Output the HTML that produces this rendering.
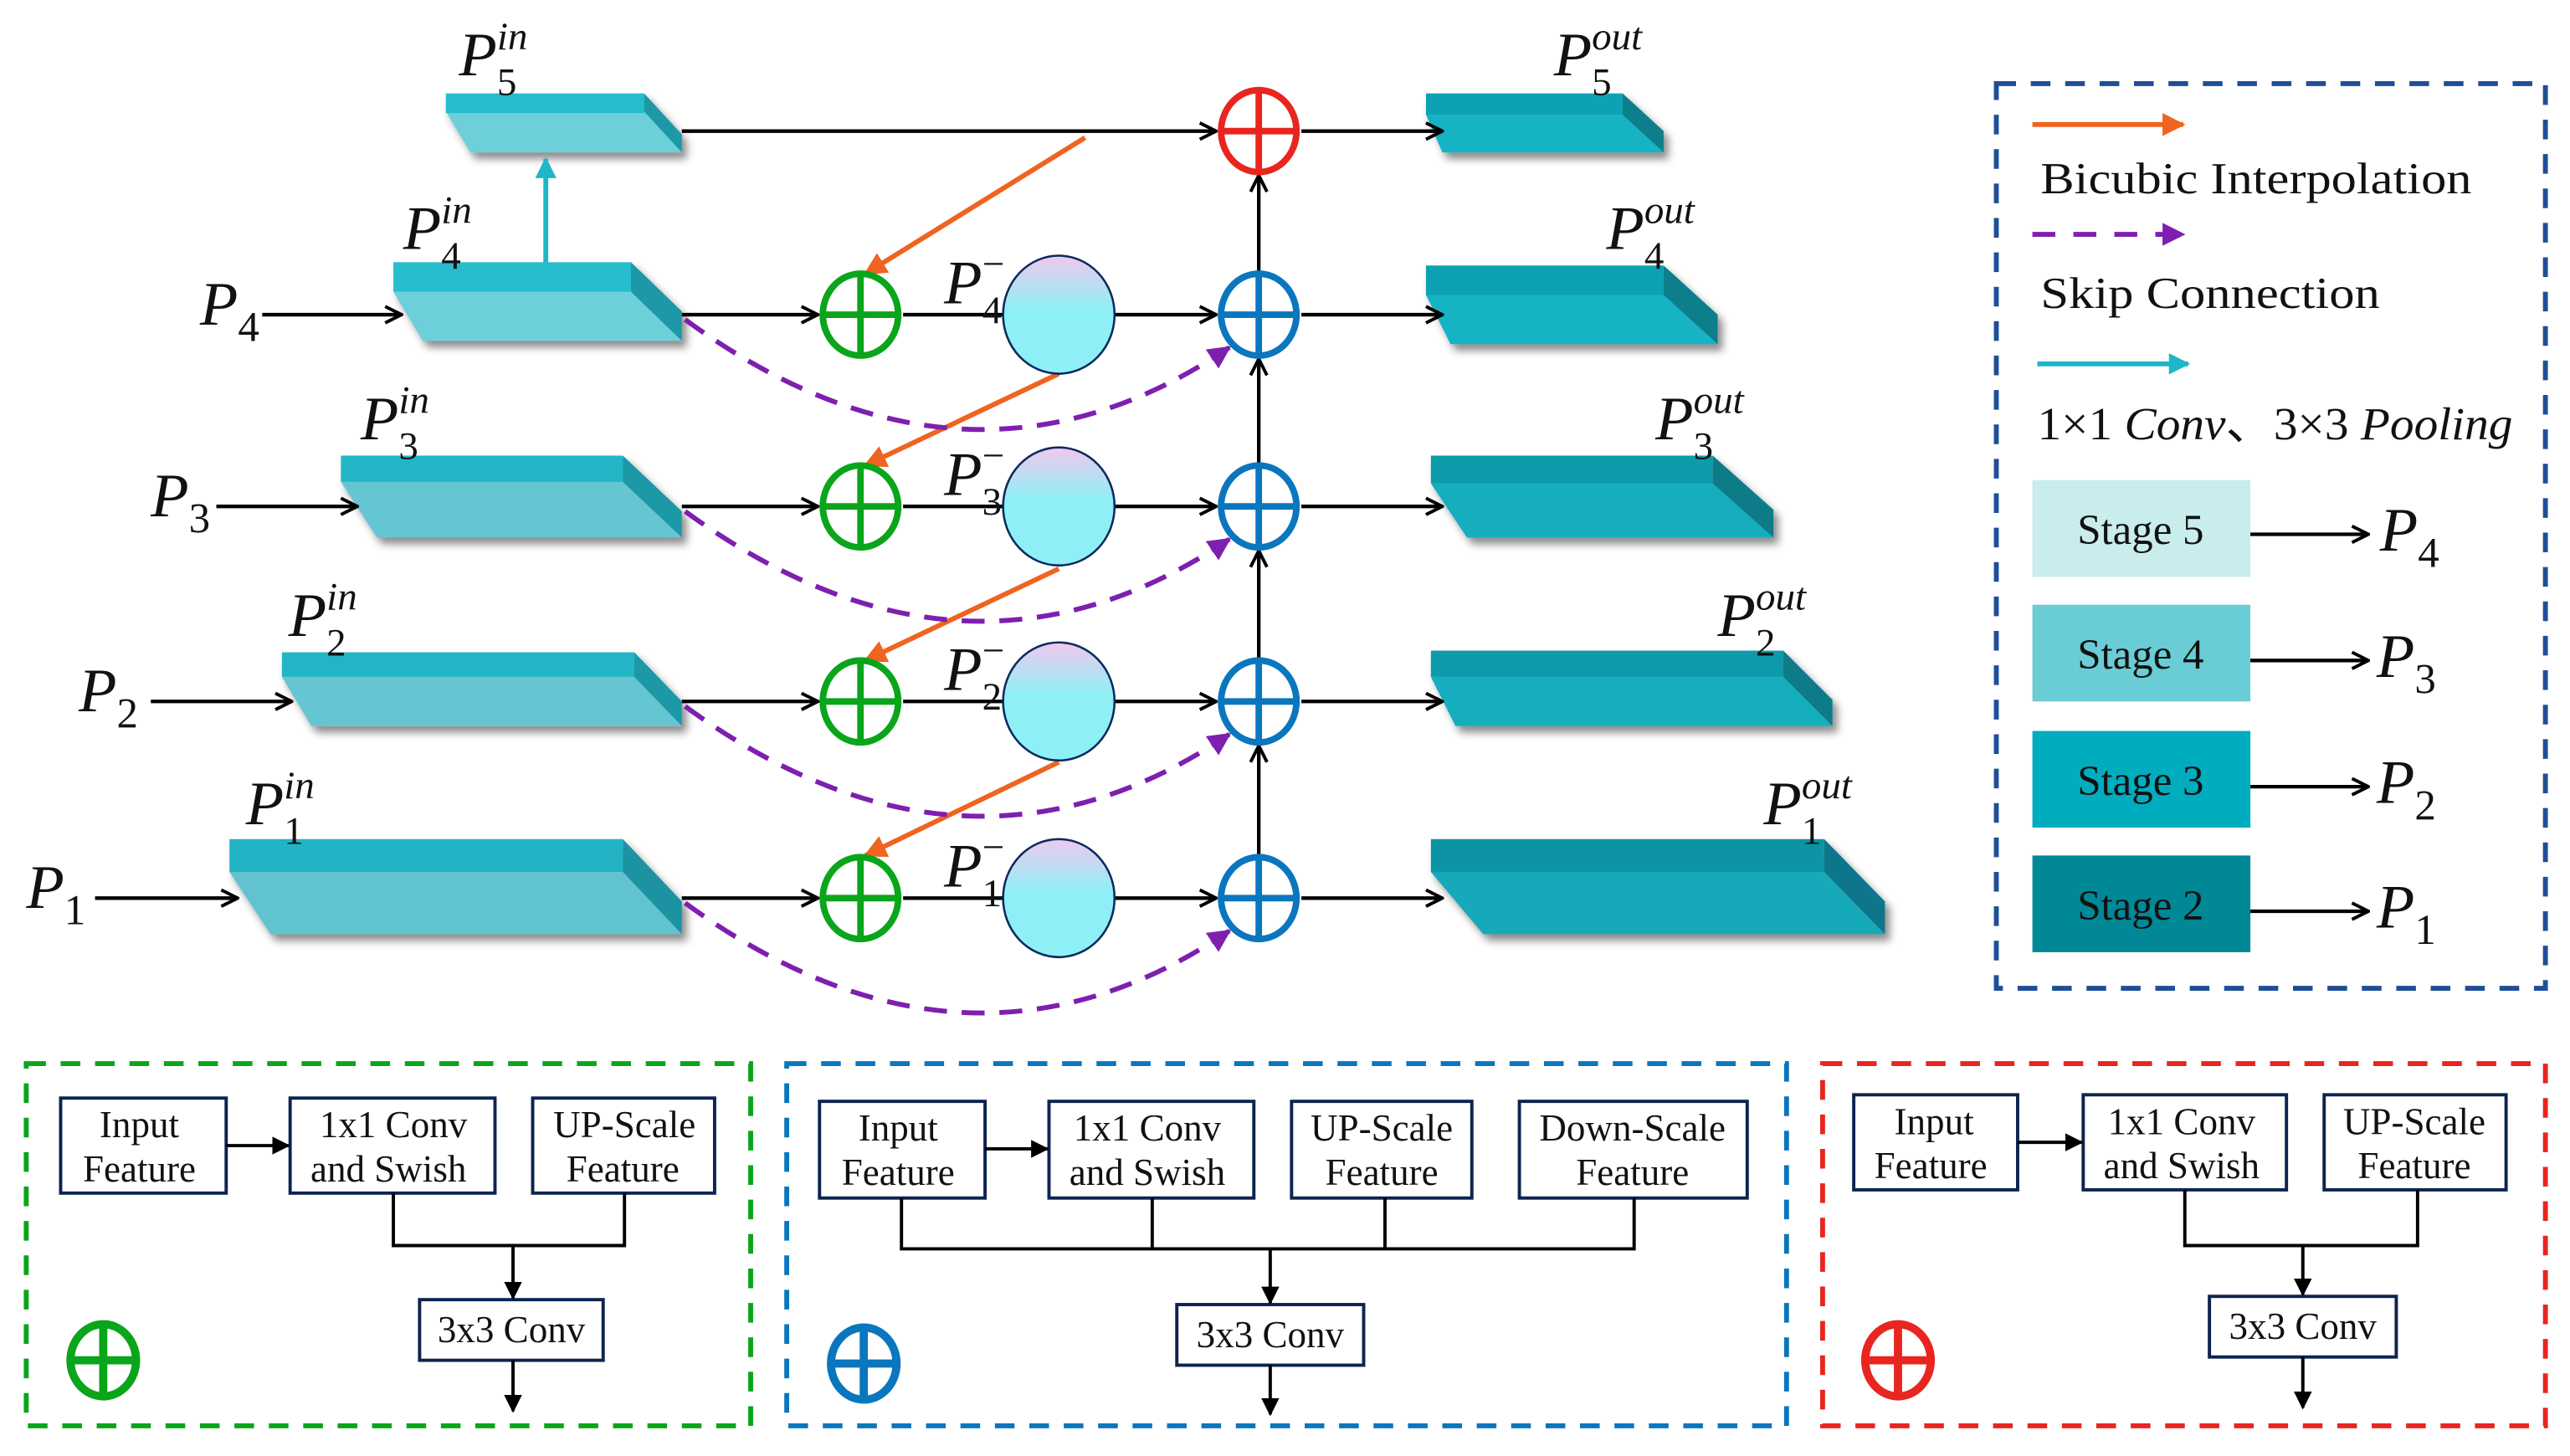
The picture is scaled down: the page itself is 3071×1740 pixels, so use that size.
<!DOCTYPE html>
<html><head><meta charset="utf-8"><style>
html,body{margin:0;padding:0;background:#fff;}
svg{display:block;}
.P{font-family:"Liberation Serif",serif;font-style:italic;fill:#111;}
.s{font-family:"Liberation Serif",serif;fill:#111;}
.b{font-family:"Liberation Serif",serif;fill:#111;font-size:23px;}
</style></head><body>
<svg width="3071" height="1740" viewBox="0 0 1568 888.4" preserveAspectRatio="none" xmlns="http://www.w3.org/2000/svg">
<defs>
<marker id="ah" viewBox="0 0 12 12" refX="11" refY="6" markerWidth="12" markerHeight="12" markerUnits="userSpaceOnUse" orient="auto"><path d="M1,1 L11,6 L1,11" fill="none" stroke="#000" stroke-width="2"/></marker>
<marker id="ao" viewBox="0 0 10 10" refX="9" refY="5" markerWidth="14" markerHeight="14" markerUnits="userSpaceOnUse" orient="auto"><path d="M0,0 L10,5 L0,10 z" fill="#ee6420"/></marker>
<marker id="ap" viewBox="0 0 10 10" refX="9" refY="5" markerWidth="14" markerHeight="14" markerUnits="userSpaceOnUse" orient="auto"><path d="M0,0 L10,5 L0,10 z" fill="#7e1fb0"/></marker>
<marker id="ac" viewBox="0 0 10 10" refX="9" refY="5" markerWidth="13" markerHeight="13" markerUnits="userSpaceOnUse" orient="auto"><path d="M0,0 L10,5 L0,10 z" fill="#1fb6c8"/></marker>
<marker id="ab" viewBox="0 0 10 10" refX="9" refY="5" markerWidth="11" markerHeight="11" markerUnits="userSpaceOnUse" orient="auto"><path d="M0,0 L10,5 L0,10 z" fill="#000"/></marker>
<linearGradient id="g" x1="0" y1="0" x2="0" y2="1"><stop offset="0" stop-color="#f0c8ee"/><stop offset="0.45" stop-color="#8ef0f6"/><stop offset="1" stop-color="#8ef0f6"/></linearGradient>
<filter id="sh" x="-10%" y="-10%" width="130%" height="140%"><feDropShadow dx="3" dy="4" stdDeviation="2.5" flood-color="#000" flood-opacity="0.45"/></filter>
</defs>

<g filter="url(#sh)">
<g><polygon points="272,68 393,68 416,93 287,93" fill="#6ccfda"/><rect x="272" y="57" width="121" height="12" fill="#27bdce"/><polygon points="393,57 416,82 416,93 393,68" fill="#1a98a6"/></g>
<g><polygon points="240,178 385,178 416,208 258,208" fill="#6ccfda"/><rect x="240" y="160" width="145" height="18" fill="#27bdce"/><polygon points="385,160 416,190 416,208 385,178" fill="#1a98a6"/></g>
<g><polygon points="208,294 380,294 416,328 230,328" fill="#66c5d2"/><rect x="208" y="278" width="172" height="16" fill="#22b5c6"/><polygon points="380,278 416,312 416,328 380,294" fill="#1a98a6"/></g>
<g><polygon points="172,413 387,413 416,443 190,443" fill="#66c5d2"/><rect x="172" y="398" width="215" height="15" fill="#22b5c6"/><polygon points="387,398 416,428 416,443 387,413" fill="#1a98a6"/></g>
<g><polygon points="140,532 380,532 416,570 165,570" fill="#62c3d0"/><rect x="140" y="512" width="240" height="20" fill="#20b3c4"/><polygon points="380,512 416,550 416,570 380,532" fill="#1a93a1"/></g>
</g>
<g filter="url(#sh)">
<g><polygon points="870,70 990,70 1015,93 880,93" fill="#16b3c4"/><rect x="870" y="57" width="120" height="13" fill="#0ea2b3"/><polygon points="990,57 1015,80 1015,93 990,70" fill="#0a7f8c"/></g>
<g><polygon points="870,180 1015,180 1048,210 885,210" fill="#16b3c4"/><rect x="870" y="162" width="145" height="18" fill="#0ea2b3"/><polygon points="1015,162 1048,192 1048,210 1015,180" fill="#0a7f8c"/></g>
<g><polygon points="873,295 1045,295 1082,328 895,328" fill="#14adbe"/><rect x="873" y="278" width="172" height="17" fill="#0c9aaa"/><polygon points="1045,278 1082,311 1082,328 1045,295" fill="#0a7b88"/></g>
<g><polygon points="873,413 1088,413 1118,443 888,443" fill="#14adbe"/><rect x="873" y="397" width="215" height="16" fill="#0c9aaa"/><polygon points="1088,397 1118,427 1118,443 1088,413" fill="#0a7b88"/></g>
<g><polygon points="873,532 1113,532 1150,570 905,570" fill="#12a9ba"/><rect x="873" y="512" width="240" height="20" fill="#0a94a4"/><polygon points="1113,512 1150,550 1150,570 1113,532" fill="#08768a"/></g>
</g>

<g stroke="#000" stroke-width="2.2" fill="none" marker-end="url(#ah)">
<line x1="416" y1="80" x2="742" y2="80"/>
<line x1="794" y1="80" x2="880" y2="80"/>
<line x1="160" y1="192" x2="245" y2="192"/>
<line x1="132" y1="309" x2="218" y2="309"/>
<line x1="92" y1="428" x2="178" y2="428"/>
<line x1="58" y1="548" x2="145" y2="548"/>
<line x1="416" y1="192" x2="499" y2="192"/>
<line x1="416" y1="309" x2="499" y2="309"/>
<line x1="416" y1="428" x2="499" y2="428"/>
<line x1="416" y1="548" x2="499" y2="548"/>
<line x1="680" y1="192" x2="742" y2="192"/>
<line x1="680" y1="309" x2="742" y2="309"/>
<line x1="680" y1="428" x2="742" y2="428"/>
<line x1="680" y1="548" x2="742" y2="548"/>
<line x1="794" y1="192" x2="880" y2="192"/>
<line x1="794" y1="309" x2="880" y2="309"/>
<line x1="794" y1="428" x2="880" y2="428"/>
<line x1="794" y1="548" x2="880" y2="548"/>
<line x1="768" y1="166" x2="768" y2="107"/>
<line x1="768" y1="283" x2="768" y2="219"/>
<line x1="768" y1="402" x2="768" y2="336"/>
<line x1="768" y1="522" x2="768" y2="455"/>
</g>
<g stroke="#000" stroke-width="2.2">
<line x1="551" y1="192" x2="612" y2="192"/>
<line x1="551" y1="309" x2="612" y2="309"/>
<line x1="551" y1="428" x2="612" y2="428"/>
<line x1="551" y1="548" x2="612" y2="548"/>
</g>
<line x1="333" y1="160" x2="333" y2="97" stroke="#1fb6c8" stroke-width="3" marker-end="url(#ac)"/>
<g stroke="#ee6420" stroke-width="3" marker-end="url(#ao)">
<line x1="662" y1="84" x2="528" y2="167"/>
<line x1="646" y1="228" x2="528" y2="284"/>
<line x1="646" y1="347" x2="528" y2="403"/>
<line x1="646" y1="465" x2="528" y2="522"/>
</g>
<g stroke="#7e1fb0" stroke-width="3" fill="none" stroke-dasharray="14,9" marker-end="url(#ap)">
<path d="M418,195 Q590,320 750,212"/>
<path d="M418,312 Q590,437 750,329"/>
<path d="M418,431 Q590,556 750,448"/>
<path d="M418,551 Q590,676 750,568"/>
</g>

<g fill="#fff" stroke-width="4">
<g stroke="#e8251f"><ellipse cx="768" cy="80" rx="23" ry="25"/><line x1="745" y1="80" x2="791" y2="80"/><line x1="768" y1="55" x2="768" y2="105"/></g>
<g stroke="#0a76be">
<ellipse cx="768" cy="192" rx="23" ry="25"/><line x1="745" y1="192" x2="791" y2="192"/><line x1="768" y1="167" x2="768" y2="217"/>
<ellipse cx="768" cy="309" rx="23" ry="25"/><line x1="745" y1="309" x2="791" y2="309"/><line x1="768" y1="284" x2="768" y2="334"/>
<ellipse cx="768" cy="428" rx="23" ry="25"/><line x1="745" y1="428" x2="791" y2="428"/><line x1="768" y1="403" x2="768" y2="453"/>
<ellipse cx="768" cy="548" rx="23" ry="25"/><line x1="745" y1="548" x2="791" y2="548"/><line x1="768" y1="523" x2="768" y2="573"/>
</g>
<g stroke="#0aa51a">
<ellipse cx="525" cy="192" rx="23" ry="25"/><line x1="502" y1="192" x2="548" y2="192"/><line x1="525" y1="167" x2="525" y2="217"/>
<ellipse cx="525" cy="309" rx="23" ry="25"/><line x1="502" y1="309" x2="548" y2="309"/><line x1="525" y1="284" x2="525" y2="334"/>
<ellipse cx="525" cy="428" rx="23" ry="25"/><line x1="502" y1="428" x2="548" y2="428"/><line x1="525" y1="403" x2="525" y2="453"/>
<ellipse cx="525" cy="548" rx="23" ry="25"/><line x1="502" y1="548" x2="548" y2="548"/><line x1="525" y1="523" x2="525" y2="573"/>
</g>
</g>
<g fill="url(#g)" stroke="#0b2a5c" stroke-width="1.3">
<ellipse cx="646" cy="192" rx="34" ry="36"/>
<ellipse cx="646" cy="309" rx="34" ry="36"/>
<ellipse cx="646" cy="428" rx="34" ry="36"/>
<ellipse cx="646" cy="548" rx="34" ry="36"/>
</g>

<g class="P" font-size="38">
<text x="280" y="46">P<tspan font-size="24" font-style="normal" dy="12">5</tspan><tspan font-size="24" dx="-12" dy="-28">in</tspan></text>
<text x="246" y="152">P<tspan font-size="24" font-style="normal" dy="12">4</tspan><tspan font-size="24" dx="-12" dy="-28">in</tspan></text>
<text x="220" y="268">P<tspan font-size="24" font-style="normal" dy="12">3</tspan><tspan font-size="24" dx="-12" dy="-28">in</tspan></text>
<text x="176" y="388">P<tspan font-size="24" font-style="normal" dy="12">2</tspan><tspan font-size="24" dx="-12" dy="-28">in</tspan></text>
<text x="150" y="503">P<tspan font-size="24" font-style="normal" dy="12">1</tspan><tspan font-size="24" dx="-12" dy="-28">in</tspan></text>
<text x="948" y="46">P<tspan font-size="24" font-style="normal" dy="12">5</tspan><tspan font-size="24" dx="-12" dy="-28">out</tspan></text>
<text x="980" y="152">P<tspan font-size="24" font-style="normal" dy="12">4</tspan><tspan font-size="24" dx="-12" dy="-28">out</tspan></text>
<text x="1010" y="268">P<tspan font-size="24" font-style="normal" dy="12">3</tspan><tspan font-size="24" dx="-12" dy="-28">out</tspan></text>
<text x="1048" y="388">P<tspan font-size="24" font-style="normal" dy="12">2</tspan><tspan font-size="24" dx="-12" dy="-28">out</tspan></text>
<text x="1076" y="503">P<tspan font-size="24" font-style="normal" dy="12">1</tspan><tspan font-size="24" dx="-12" dy="-28">out</tspan></text>
<text x="576" y="185">P<tspan font-size="24" font-style="normal" dy="12">4</tspan><tspan font-size="24" font-style="normal" dx="-12" dy="-28">−</tspan></text>
<text x="576" y="302">P<tspan font-size="24" font-style="normal" dy="12">3</tspan><tspan font-size="24" font-style="normal" dx="-12" dy="-28">−</tspan></text>
<text x="576" y="421">P<tspan font-size="24" font-style="normal" dy="12">2</tspan><tspan font-size="24" font-style="normal" dx="-12" dy="-28">−</tspan></text>
<text x="576" y="541">P<tspan font-size="24" font-style="normal" dy="12">1</tspan><tspan font-size="24" font-style="normal" dx="-12" dy="-28">−</tspan></text>
<text x="122" y="198">P<tspan font-size="26" font-style="normal" dy="10">4</tspan></text>
<text x="92" y="315">P<tspan font-size="26" font-style="normal" dy="10">3</tspan></text>
<text x="48" y="434">P<tspan font-size="26" font-style="normal" dy="10">2</tspan></text>
<text x="16" y="554">P<tspan font-size="26" font-style="normal" dy="10">1</tspan></text>
</g>

<rect x="1218" y="51" width="335" height="552" fill="none" stroke="#1f4e96" stroke-width="3" stroke-dasharray="12,9"/>
<line x1="1240" y1="76" x2="1332" y2="76" stroke="#ee6420" stroke-width="3" marker-end="url(#ao)"/>
<text class="s" x="1245" y="118" font-size="27" textLength="263" lengthAdjust="spacingAndGlyphs">Bicubic Interpolation</text>
<line x1="1240" y1="143" x2="1332" y2="143" stroke="#7e1fb0" stroke-width="3" stroke-dasharray="14,11" marker-end="url(#ap)"/>
<text class="s" x="1245" y="188" font-size="27" textLength="207" lengthAdjust="spacingAndGlyphs">Skip Connection</text>
<line x1="1243" y1="222" x2="1335" y2="222" stroke="#1fb6c8" stroke-width="3" marker-end="url(#ac)"/>
<text class="s" x="1243" y="268" font-size="28" textLength="290" lengthAdjust="spacingAndGlyphs">1×1<tspan font-style="italic"> Conv</tspan>、3×3<tspan font-style="italic"> Pooling</tspan></text>
<rect x="1240" y="293" width="133" height="59" fill="#c9ecec"/>
<rect x="1240" y="369" width="133" height="59" fill="#6accd5"/>
<rect x="1240" y="446" width="133" height="59" fill="#00adbf"/>
<rect x="1240" y="522" width="133" height="59" fill="#008896"/>
<g class="s" font-size="26" text-anchor="middle">
<text x="1306" y="332">Stage 5</text><text x="1306" y="408">Stage 4</text><text x="1306" y="485">Stage 3</text><text x="1306" y="561">Stage 2</text>
</g>
<g stroke="#000" stroke-width="2.2" marker-end="url(#ah)">
<line x1="1373" y1="326" x2="1445" y2="326"/>
<line x1="1373" y1="403" x2="1445" y2="403"/>
<line x1="1373" y1="480" x2="1445" y2="480"/>
<line x1="1373" y1="556" x2="1445" y2="556"/>
</g>
<g class="P" font-size="38">
<text x="1452" y="336">P<tspan font-size="26" font-style="normal" dy="10">4</tspan></text>
<text x="1450" y="413">P<tspan font-size="26" font-style="normal" dy="10">3</tspan></text>
<text x="1450" y="490">P<tspan font-size="26" font-style="normal" dy="10">2</tspan></text>
<text x="1450" y="566">P<tspan font-size="26" font-style="normal" dy="10">1</tspan></text>
</g>

<g fill="none" stroke-width="3" stroke-dasharray="12,9">
<rect x="16" y="649" width="442" height="221" stroke="#0aa51a"/>
<rect x="480" y="649" width="610" height="221" stroke="#0a76be"/>
<rect x="1112" y="649" width="441" height="221" stroke="#e8251f"/>
</g>
<g fill="#fff" stroke="#0d2450" stroke-width="2">
<rect x="37" y="670" width="101" height="58"/><rect x="177" y="670" width="125" height="58"/><rect x="325" y="670" width="111" height="58"/><rect x="256" y="793" width="112" height="37"/>
<rect x="500" y="672" width="101" height="59"/><rect x="640" y="672" width="125" height="59"/><rect x="788" y="672" width="110" height="59"/><rect x="927" y="672" width="139" height="59"/><rect x="718" y="796" width="114" height="37"/>
<rect x="1131" y="668" width="100" height="58"/><rect x="1271" y="668" width="124" height="58"/><rect x="1418" y="668" width="111" height="58"/><rect x="1348" y="791" width="114" height="37"/>
</g>
<g stroke="#000" stroke-width="2" fill="none">
<polyline points="240,728 240,760 381,760 381,728"/>
<polyline points="550,731 550,762 997,762 997,731"/><line x1="703" y1="731" x2="703" y2="762"/><line x1="845" y1="731" x2="845" y2="762"/>
<polyline points="1333,726 1333,760 1475,760 1475,726"/>
</g>
<g stroke="#000" stroke-width="2" marker-end="url(#ab)">
<line x1="138" y1="699" x2="176" y2="699"/>
<line x1="601" y1="701" x2="639" y2="701"/>
<line x1="1231" y1="697" x2="1270" y2="697"/>
<line x1="313" y1="760" x2="313" y2="792"/>
<line x1="313" y1="830" x2="313" y2="861"/>
<line x1="775" y1="762" x2="775" y2="795"/>
<line x1="775" y1="833" x2="775" y2="863"/>
<line x1="1405" y1="760" x2="1405" y2="790"/>
<line x1="1405" y1="828" x2="1405" y2="859"/>
</g>
<g class="b" text-anchor="middle">
<text x="85" y="694">Input</text><text x="85" y="721">Feature</text>
<text x="240" y="694">1x1 Conv</text><text x="237" y="721">and Swish</text>
<text x="381" y="694">UP-Scale</text><text x="380" y="721">Feature</text>
<text x="312" y="819">3x3 Conv</text>
<text x="548" y="696">Input</text><text x="548" y="723">Feature</text>
<text x="700" y="696">1x1 Conv</text><text x="700" y="723">and Swish</text>
<text x="843" y="696">UP-Scale</text><text x="843" y="723">Feature</text>
<text x="996" y="696">Down-Scale</text><text x="996" y="723">Feature</text>
<text x="775" y="822">3x3 Conv</text>
<text x="1180" y="692">Input</text><text x="1178" y="719">Feature</text>
<text x="1331" y="692">1x1 Conv</text><text x="1331" y="719">and Swish</text>
<text x="1473" y="692">UP-Scale</text><text x="1473" y="719">Feature</text>
<text x="1405" y="817">3x3 Conv</text>
</g>
<g fill="none" stroke-width="5">
<g stroke="#0aa51a"><ellipse cx="63" cy="830" rx="20" ry="22"/><line x1="43" y1="830" x2="83" y2="830"/><line x1="63" y1="808" x2="63" y2="852"/></g>
<g stroke="#0a76be"><ellipse cx="527" cy="832" rx="20" ry="22"/><line x1="507" y1="832" x2="547" y2="832"/><line x1="527" y1="810" x2="527" y2="854"/></g>
<g stroke="#e8251f"><ellipse cx="1158" cy="830" rx="20" ry="22"/><line x1="1138" y1="830" x2="1178" y2="830"/><line x1="1158" y1="808" x2="1158" y2="852"/></g>
</g>
</svg>
</body></html>
